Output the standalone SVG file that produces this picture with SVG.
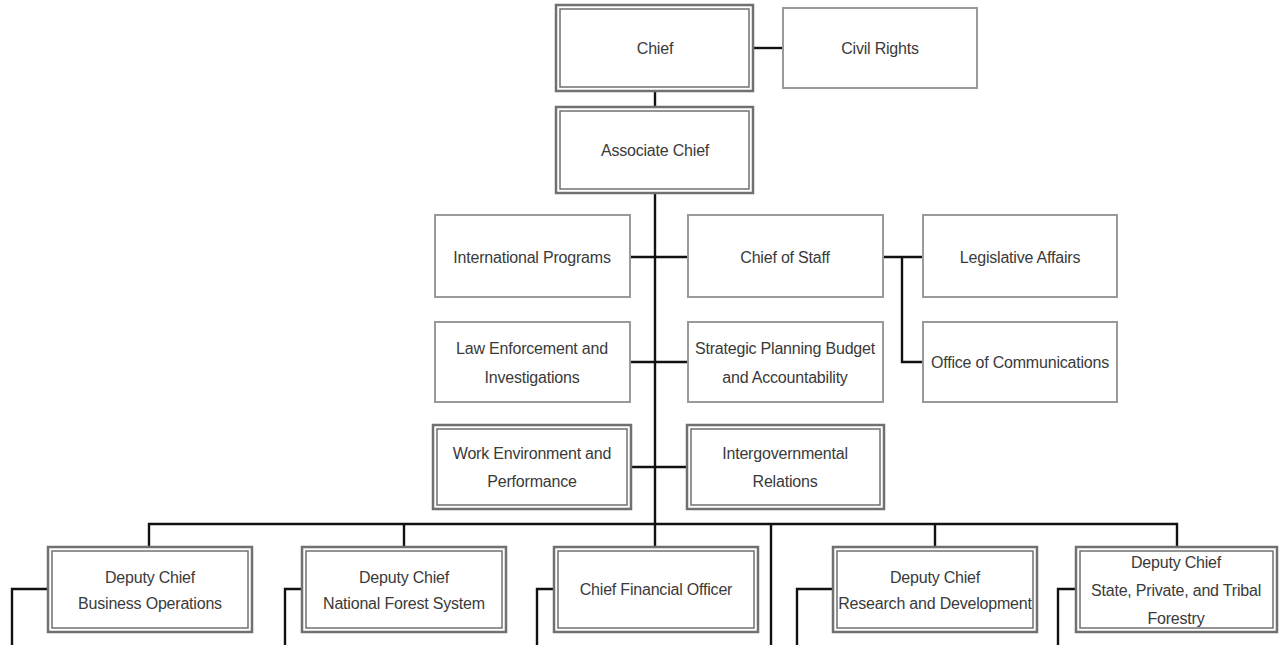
<svg xmlns="http://www.w3.org/2000/svg" width="1279" height="645" viewBox="0 0 1279 645">
<style>
text{font-family:"Liberation Sans",Arial,sans-serif;font-size:16px;letter-spacing:-0.2px;fill:#3a3a3a;text-anchor:middle;dominant-baseline:central}
.s{fill:#fff;stroke:#9a9a9a;stroke-width:2}
.d{fill:#fff;stroke:#707070;stroke-width:2.5}
.di{fill:none;stroke:#707070;stroke-width:1.5}
.c{fill:none;stroke:#111;stroke-width:2.4}
</style>
<rect width="1279" height="645" fill="#fff"/>
<g id="connectors">
<path class="c" d="M753 48H783"/>
<path class="c" d="M655 91V107"/>
<path class="c" d="M655 193V524"/>
<path class="c" d="M630 257H688M630 362H688M631 467H687"/>
<path class="c" d="M883 257H923M902 257V362H923"/>
<path class="c" d="M149 547V524H1177V547"/>
<path class="c" d="M404 524V547M655 524V547M935 524V547"/>
<path class="c" d="M771 524V645"/>
<path class="c" d="M48 589H12V645"/>
<path class="c" d="M302 589H285V645"/>
<path class="c" d="M554 589H537V645"/>
<path class="c" d="M833 589H797V645"/>
<path class="c" d="M1076 589H1058V645"/>
</g>
<g id="chief"><rect class="d" x="556" y="5" width="197" height="86"/><rect class="di" x="560" y="9" width="189" height="78"/><text x="655" y="48">Chief</text></g>
<g id="civil-rights"><rect class="s" x="783" y="8" width="194" height="80"/><text x="880" y="48">Civil Rights</text></g>
<g id="associate-chief"><rect class="d" x="556" y="107" width="197" height="86"/><rect class="di" x="560" y="111" width="189" height="78"/><text x="655" y="150">Associate Chief</text></g>
<g id="international-programs"><rect class="s" x="435" y="215" width="195" height="82"/><text x="532" y="257">International Programs</text></g>
<g id="chief-of-staff"><rect class="s" x="688" y="215" width="195" height="82"/><text x="785" y="257">Chief of Staff</text></g>
<g id="legislative-affairs"><rect class="s" x="923" y="215" width="194" height="82"/><text x="1020" y="257">Legislative Affairs</text></g>
<g id="law-enforcement"><rect class="s" x="435" y="322" width="195" height="80"/><text x="532" y="348">Law Enforcement and</text><text x="532" y="377">Investigations</text></g>
<g id="strategic-planning"><rect class="s" x="688" y="322" width="195" height="80"/><text x="785" y="348">Strategic Planning Budget</text><text x="785" y="377">and Accountability</text></g>
<g id="office-of-communications"><rect class="s" x="923" y="322" width="194" height="80"/><text x="1020" y="362">Office of Communications</text></g>
<g id="work-environment"><rect class="d" x="433" y="425" width="198" height="84"/><rect class="di" x="437" y="429" width="190" height="76"/><text x="532" y="453">Work Environment and</text><text x="532" y="481">Performance</text></g>
<g id="intergovernmental"><rect class="d" x="687" y="425" width="197" height="84"/><rect class="di" x="691" y="429" width="189" height="76"/><text x="785" y="453">Intergovernmental</text><text x="785" y="481">Relations</text></g>
<g id="dc-business"><rect class="d" x="48" y="547" width="204" height="85"/><rect class="di" x="52" y="551" width="196" height="77"/><text x="150" y="577">Deputy Chief</text><text x="150" y="603">Business Operations</text></g>
<g id="dc-nfs"><rect class="d" x="302" y="547" width="204" height="85"/><rect class="di" x="306" y="551" width="196" height="77"/><text x="404" y="577">Deputy Chief</text><text x="404" y="603">National Forest System</text></g>
<g id="cfo"><rect class="d" x="554" y="547" width="204" height="85"/><rect class="di" x="558" y="551" width="196" height="77"/><text x="656" y="589">Chief Financial Officer</text></g>
<g id="dc-rd"><rect class="d" x="833" y="547" width="204" height="85"/><rect class="di" x="837" y="551" width="196" height="77"/><text x="935" y="577">Deputy Chief</text><text x="935" y="603">Research and Development</text></g>
<g id="dc-spt"><rect class="d" x="1076" y="547" width="201" height="85"/><rect class="di" x="1080" y="551" width="193" height="77"/><text x="1176" y="562">Deputy Chief</text><text x="1176" y="590">State, Private, and Tribal</text><text x="1176" y="618">Forestry</text></g>
</svg>
